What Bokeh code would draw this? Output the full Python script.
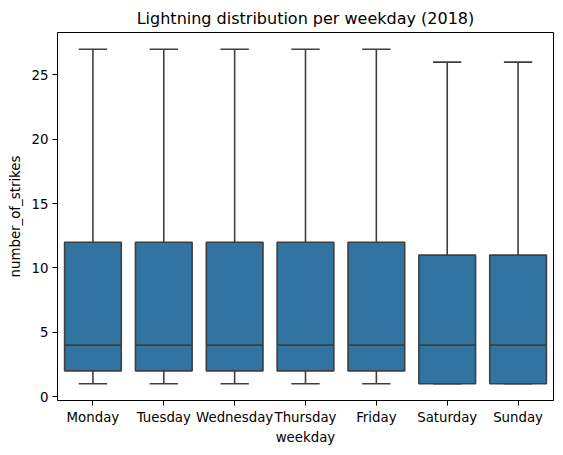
from bokeh.plotting import figure
from bokeh.models import ColumnDataSource, FixedTicker, Range1d, FactorRange
from bokeh.embed import file_html
from bokeh.resources import INLINE

days = ["Monday", "Tuesday", "Wednesday", "Thursday", "Friday", "Saturday", "Sunday"]
mins = [1, 1, 1, 1, 1, 1, 1]
q1s = [2, 2, 2, 2, 2, 1, 1]
medians = [4, 4, 4, 4, 4, 4, 4]
q3s = [12, 12, 12, 12, 12, 11, 11]
maxs = [27, 27, 27, 27, 27, 26, 26]
y_ticks = [0, 5, 10, 15, 20, 25]

FILL = "#3274a1"
EDGE = "#3f3f3f"
LW = 1.6

src = ColumnDataSource(dict(
    day=days, lo=mins, q1=q1s, med=medians, q3=q3s, hi=maxs,
    bl=[(d, -0.4) for d in days], br=[(d, 0.4) for d in days],
    cl=[(d, -0.2) for d in days], cr=[(d, 0.2) for d in days],
))

p = figure(width=555, height=447, x_range=FactorRange(*days), y_range=Range1d(-0.3, 28.3),
           output_backend="svg", toolbar_location=None,
           title="Lightning distribution per weekday (2018)",
           min_border_left=57, min_border_right=2, min_border_top=32, min_border_bottom=45)

# whiskers
p.segment(x0="day", y0="q3", x1="day", y1="hi", source=src, line_color=EDGE, line_width=LW)
p.segment(x0="day", y0="q1", x1="day", y1="lo", source=src, line_color=EDGE, line_width=LW)
# caps
p.segment(x0="cl", y0="hi", x1="cr", y1="hi", source=src, line_color=EDGE, line_width=LW)
p.segment(x0="cl", y0="lo", x1="cr", y1="lo", source=src, line_color=EDGE, line_width=LW)
# boxes
p.vbar(x="day", top="q3", bottom="q1", width=0.8, source=src,
       fill_color=FILL, line_color=EDGE, line_width=LW)
# medians
p.segment(x0="bl", y0="med", x1="br", y1="med", source=src, line_color=EDGE, line_width=LW)

p.title.text_font = "DejaVu Sans"
p.title.text_font_size = "12pt"
p.title.text_font_style = "normal"
p.title.align = "center"
p.title.text_color = "black"

for ax in (p.xaxis, p.yaxis):
    ax.axis_line_color = "black"
    ax.axis_line_width = 1
    ax.major_tick_line_color = "black"
    ax.major_tick_out = 5
    ax.major_tick_in = 0
    ax.minor_tick_line_color = None
    ax.major_label_text_font = "DejaVu Sans"
    ax.major_label_text_font_size = "10pt"
    ax.major_label_text_color = "black"
    ax.axis_label_text_font = "DejaVu Sans"
    ax.axis_label_text_font_size = "10pt"
    ax.axis_label_text_font_style = "normal"
    ax.axis_label_text_color = "black"

p.xaxis.axis_label = "weekday"
p.yaxis.axis_label = "number_of_strikes"
p.yaxis.ticker = FixedTicker(ticks=y_ticks)
p.xaxis.major_label_standoff = 4
p.yaxis.major_label_standoff = 4
p.xaxis.axis_label_standoff = 2
p.yaxis.axis_label_standoff = 6

p.xgrid.grid_line_color = None
p.ygrid.grid_line_color = None
p.outline_line_color = "black"
p.outline_line_alpha = 1
p.outline_line_width = 1
p.background_fill_color = "white"
p.border_fill_color = "white"

open("out.html", "w").write(file_html(p, INLINE))
